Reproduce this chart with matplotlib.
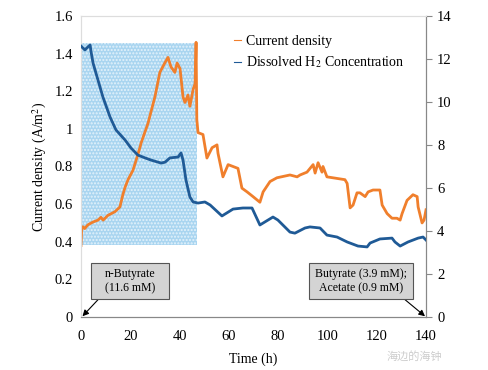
import matplotlib
matplotlib.use('Agg')
import matplotlib.pyplot as plt
from matplotlib.patches import Rectangle

plt.rcParams['font.family'] = ['Liberation Serif', 'Noto Sans CJK SC', 'DejaVu Sans']
plt.rcParams['mathtext.fontset'] = 'stix'

# current density (A/m2), left axis
cd_t = [0, 0.3, 0.8, 1.5, 2.8, 4.9, 6.9, 8.1, 9, 10.9, 13.8, 15.8, 17, 17.9, 19.1, 21.1, 22.3, 23.9,
        24.4, 27.2, 30, 32, 34, 35.3, 36.5, 38.1, 39, 40.2, 41.4, 42.2, 43.4, 44.2, 45.5, 46.3, 46.7,
        47.0, 47.5, 49.5, 51.1, 53.2, 55.2, 55.6, 57.6, 59.7, 63.7, 65.3, 67.4, 69.8, 72.6, 73.9,
        76.7, 79.5, 84.8, 87.7, 88.9, 91.7, 94.2, 95, 96.2, 97.8, 98.2, 99.8, 107.1, 108, 109.2,
        110.4, 112, 113.2, 115.3, 116.5, 118.5, 121.3, 122.2, 124.2, 126.2, 128.2, 129.5, 130.3,
        132.3, 134.7, 136.4, 136.8, 138.4, 139.2, 140]
cd_v = [0.38, 0.47, 0.48, 0.47, 0.49, 0.505, 0.515, 0.53, 0.515, 0.54, 0.56, 0.585, 0.65, 0.69,
        0.73, 0.78, 0.83, 0.90, 0.925, 1.03, 1.17, 1.30, 1.35, 1.38, 1.33, 1.30, 1.35, 1.32, 1.17,
        1.14, 1.18, 1.12, 1.21, 1.24, 1.46, 1.05, 0.98, 0.97, 0.845, 0.90, 0.915, 0.87, 0.745,
        0.81, 0.79, 0.685, 0.665, 0.64, 0.61, 0.665, 0.72, 0.74, 0.755, 0.745, 0.755, 0.77, 0.81,
        0.765, 0.82, 0.77, 0.80, 0.745, 0.73, 0.71, 0.58, 0.595, 0.66, 0.66, 0.64, 0.665, 0.675,
        0.675, 0.595, 0.55, 0.525, 0.525, 0.515, 0.55, 0.62, 0.65, 0.64, 0.585, 0.50, 0.515, 0.57]

# dissolved H2 concentration, right axis
h2_t = [0, 1.6, 2.8, 3.7, 4.1, 4.9, 6.9, 8.9, 11.8, 14.2, 17.9, 20.3, 23.1, 26, 28.4, 32.5, 34.1,
        36.1, 39.4, 40.6, 41.4, 42.6, 44.2, 45.5, 47.5, 50.3, 52.4, 57.2, 61.7, 65.7, 69.4, 72.6,
        77.9, 79.9, 84.8, 86.8, 90.9, 92.9, 97, 99.8, 103.9, 108, 112.4, 116.1, 117.3, 121.3,
        126.2, 127.4, 129.5, 132.7, 136.8, 138.8, 140]
h2_v = [12.6, 12.42, 12.56, 12.65, 12.33, 11.81, 11.02, 10.23, 9.3, 8.7, 8.23, 7.86, 7.53, 7.4,
        7.3, 7.16, 7.2, 7.4, 7.44, 7.63, 7.3, 6.37, 5.58, 5.35, 5.3, 5.35, 5.21, 4.7, 5.02, 5.07,
        5.07, 4.28, 4.65, 4.51, 3.95, 3.9, 4.14, 4.19, 4.14, 3.81, 3.72, 3.49, 3.3, 3.26, 3.44,
        3.63, 3.67, 3.49, 3.3, 3.49, 3.67, 3.72, 3.58]

notes = ['n-Butyrate\n(11.6 mM)', 'Butyrate (3.9 mM);\nAcetate (0.9 mM)']

orange = '#f07f2c'
blue = '#1f5a96'

fig = plt.figure(figsize=(4.89, 3.70), dpi=100)
ax = fig.add_axes([0.1656, 0.1432, 0.7056, 0.8136])
ax2 = ax.twinx()

# shaded period
ax.add_patch(Rectangle((0, 0.383), 47, 1.457 - 0.383, facecolor='#a9d5f0', edgecolor='#e4f2fb',
                       hatch='.....', linewidth=0, zorder=0))

ax.plot(cd_t, cd_v, color=orange, lw=2, zorder=3, label='Current density')
ax2.plot(h2_t, h2_v, color=blue, lw=2, zorder=3, label='Dissolved H$_2$ Concentration')

ax.set_xlim(0, 140)
ax.set_ylim(0, 1.6)
ax2.set_ylim(0, 14)
ax.set_xticks(range(0, 141, 20))
ax.set_yticks([0, 0.2, 0.4, 0.6, 0.8, 1, 1.2, 1.4, 1.6])
ax.set_yticklabels(['0', '0.2', '0.4', '0.6', '0.8', '1', '1.2', '1.4', '1.6'])
ax2.set_yticks(range(0, 15, 2))

for a in (ax, ax2):
    a.tick_params(labelsize=10.5)
    for s in a.spines.values():
        s.set_color('#dddddd')
    a.spines['bottom'].set_color('#888888')
    a.spines['right'].set_color('#888888')
ax.tick_params(axis='y', length=0, pad=6)
ax.tick_params(axis='x', length=0, pad=9)
ax2.tick_params(axis='y', length=4, color='#888888', pad=4)

ax.set_xlabel('Time (h)', fontsize=10, labelpad=7)
ax.set_ylabel('Current density (A/m$^2$)', fontsize=10)

h1, l1 = ax.get_legend_handles_labels()
h2, l2 = ax2.get_legend_handles_labels()
leg = ax.legend(h1 + h2, l1 + l2, loc='upper left', bbox_to_anchor=(0.415, 0.97), frameon=False,
                fontsize=10, handlelength=0.5, handletextpad=0.4, labelspacing=0.5,
                borderpad=0.2)
for ln in leg.get_lines():
    ln.set_linewidth(0.8)

# annotation boxes
for (x0, x1), txt, start, end in [((4.1, 35.7), notes[0], (6.9, 0.092), (0.6, 0.004)),
                                  ((92.6, 134.8), notes[1], (131.5, 0.092), (139.6, 0.004))]:
    ax.add_patch(Rectangle((x0, 0.096), x1 - x0, 0.191, facecolor='#d4d4d4',
                           edgecolor='#555555', lw=0.8, zorder=5))
    ax.text((x0 + x1) / 2, 0.192, txt, fontsize=8.5, ha='center', va='center', zorder=6,
            linespacing=1.3)
    ax.annotate('', xy=end, xytext=start,
                arrowprops=dict(arrowstyle='-|>', color='black', lw=0.8, shrinkA=0, shrinkB=0,
                                mutation_scale=9))

fig.text(0.905, 0.038, '海边的海钟', fontsize=8, color='#cccccc', ha='right', va='center')

fig.savefig('out.png', dpi=100)
